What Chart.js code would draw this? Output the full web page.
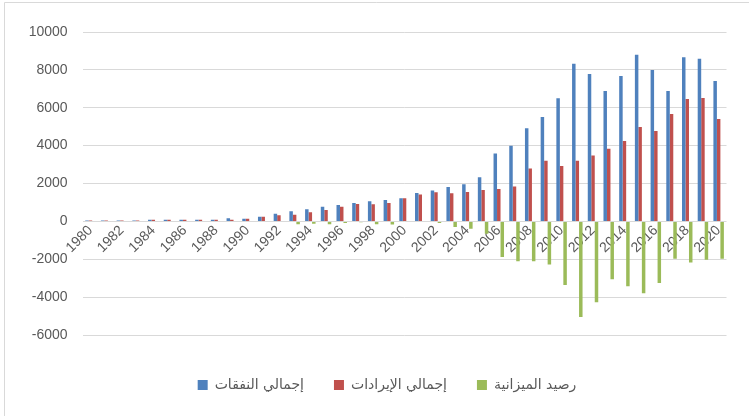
<!DOCTYPE html>
<html>
<head>
<meta charset="utf-8">
<script src="https://cdn.jsdelivr.net/npm/chart.js@4/dist/chart.umd.min.js"></script>
<style>
html,body{margin:0;padding:0;background:#fff;}
#wrap{position:relative;width:749px;height:416px;}
</style>
</head>
<body>
<div id="wrap"><canvas id="c" width="749" height="416"></canvas></div>
<script>
const years = ["1980","1981","1982","1983","1984","1985","1986","1987","1988","1989","1990","1991","1992","1993","1994","1995","1996","1997","1998","1999","2000","2001","2002","2003","2004","2005","2006","2007","2008","2009","2010","2011","2012","2013","2014","2015","2016","2017","2018","2019","2020"];
const expenditure = [50,50,50,50,90,90,90,90,90,160,140,250,400,530,636,778,865,970,1060,1130,1220,1500,1625,1817,1960,2330,3585,3990,4911,5510,6500,8318,7788,6887,7682,8795,8000,6887,8672,8583,7417];
const revenue = [50,50,50,50,85,85,85,85,85,90,140,250,320,355,477,600,778,917,900,970,1220,1415,1536,1480,1550,1660,1710,1838,2792,3195,2930,3195,3480,3830,4238,4980,4768,5669,6464,6517,5404];
const balance = [0,0,0,0,0,0,0,0,0,0,0,0,-30,-150,-120,-150,-90,-40,-150,-160,0,-30,-90,-300,-390,-650,-1880,-2100,-2100,-2280,-3355,-5050,-4275,-3055,-3425,-3800,-3250,-1980,-2170,-2020,-1980];
const seriesNames = ["إجمالي النفقات","إجمالي الإيرادات","رصيد الميزانية"];
const yTicks = {min:-6000, max:10000, step:2000};

const frame = {
  id:'frame',
  beforeDraw(chart){
    const ctx = chart.ctx;
    ctx.save();
    ctx.fillStyle='#fff';
    ctx.fillRect(0,0,chart.width,chart.height);
    ctx.strokeStyle='#d9d9d9';
    ctx.lineWidth=1;
    ctx.beginPath();
    ctx.moveTo(4.5,416); ctx.lineTo(4.5,2.5); ctx.lineTo(749,2.5);
    ctx.stroke();
    ctx.restore();
  }
};

new Chart(document.getElementById('c'), {
  type:'bar',
  data:{
    labels: years,
    datasets:[
      {label:seriesNames[0], data:expenditure, backgroundColor:'#4F81BD'},
      {label:seriesNames[1], data:revenue, backgroundColor:'#C0504D'},
      {label:seriesNames[2], data:balance, backgroundColor:'#9BBB59'}
    ]
  },
  options:{
    responsive:false,
    animation:false,
    devicePixelRatio:1,
    datasets:{bar:{categoryPercentage:0.667, barPercentage:1.0}},
    layout:{padding:{top:32,left:25,right:0,bottom:14}},
    plugins:{
      tooltip:{enabled:false},
      legend:{
        position:'bottom',
        labels:{
          boxWidth:10, boxHeight:10, padding:30,
          color:'#595959',
          font:{family:"'DejaVu Sans', 'Liberation Sans', sans-serif", size:14}
        }
      }
    },
    scales:{
      x:{
        position:{y:0},
        grid:{display:false, drawTicks:false},
        border:{display:false},
        afterFit:(s)=>{ s.height = 50; },
        ticks:{
          autoSkip:false, minRotation:45, maxRotation:45,
          padding:1,
          color:'#595959',
          font:{family:"'Liberation Sans', Arial, sans-serif", size:14},
          callback:(v,i)=> i%2===0 ? years[i] : ''
        }
      },
      xb:{
        type:'category',
        position:'bottom',
        labels:[''],
        grid:{display:false, drawTicks:false},
        border:{display:false},
        ticks:{display:false},
        afterFit:(s)=>{ s.height = 13; }
      },
      y:{
        min:yTicks.min, max:yTicks.max,
        grid:{color:'#d9d9d9', lineWidth:1, drawTicks:false},
        border:{display:false},
        afterFit:(s)=>{ s.width = 57.6; },
        ticks:{
          stepSize:yTicks.step,
          padding:15,
          color:'#595959',
          font:{family:"'Liberation Sans', Arial, sans-serif", size:14},
          callback:(v)=> String(v)
        }
      },
      yr:{
        position:'right',
        min:yTicks.min, max:yTicks.max,
        grid:{display:false, drawOnChartArea:false, drawTicks:false},
        border:{display:false},
        ticks:{display:false},
        afterFit:(s)=>{ s.width = 22.5; }
      }
    }
  },
  plugins:[frame]
});
</script>
</body>
</html>
